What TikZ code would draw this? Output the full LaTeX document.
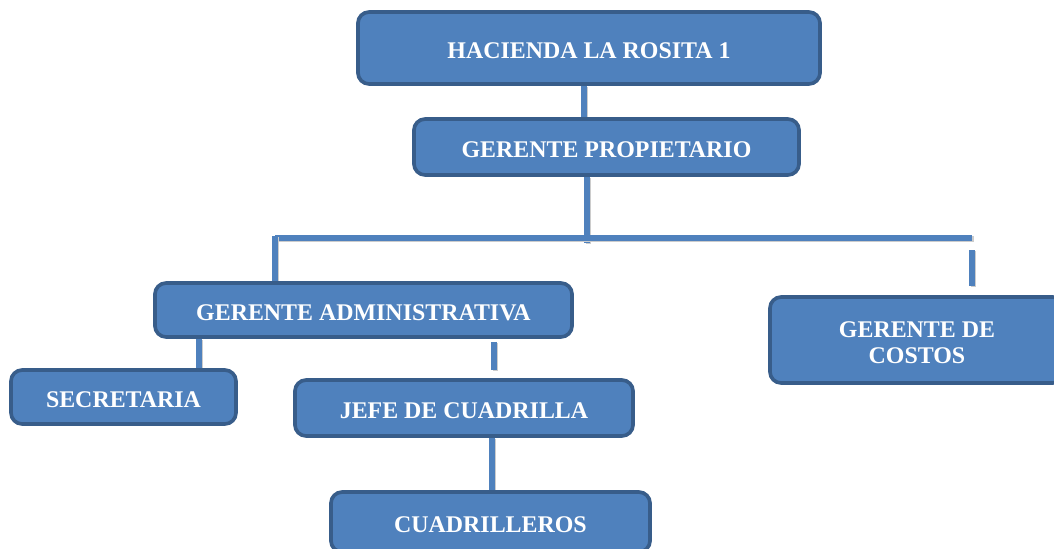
\documentclass[tikz,border=0pt]{standalone}
\usepackage{fontspec}
\setmainfont{Liberation Serif}
\usepackage{tikz}
\usetikzlibrary{calc,backgrounds}
\definecolor{boxblue}{HTML}{4F81BD}
\definecolor{boxedge}{HTML}{385D8A}

\begin{document}
\begin{tikzpicture}[
    x=0.025cm, y=-0.025cm,
    box/.style={draw=boxedge, fill=boxblue, line width=2.6pt,
    rounded corners=8pt, text=white, align=center,
    font=\fontsize{17}{18.5}\selectfont\bfseries, inner sep=0pt},
    oneline/.style={text height=15pt, text depth=0pt},
    link/.style={draw=boxblue, line width=3.8pt,
    preaction={draw=black!20, line width=3.8pt,
    transform canvas={shift={(1.2pt,-0.8pt)}}}},
    every node/.style={color=white}
    ]
    \clip (0,0) rectangle (1054,548);
    \useasboundingbox (0,0) rectangle (1054,548);
    % Boxes
    \node[box, oneline, minimum width=11.55cm, minimum height=1.8cm] (hacienda)
        at (589,48) {HACIENDA LA ROSITA 1};
    \node[box, oneline, minimum width=9.625cm, minimum height=1.4cm] (prop)
        at (606.5,147) {GERENTE PROPIETARIO};
    \node[box, oneline, minimum width=10.425cm, minimum height=1.35cm] (admin)
        at (363.5,310) {GERENTE ADMINISTRATIVA};
    \node[box, minimum width=7.35cm, minimum height=2.15cm] (costos)
        at (917,340) {\rule{0pt}{15pt}GERENTE DE\\COSTOS};
    \node[box, oneline, minimum width=5.625cm, minimum height=1.35cm] (secretaria)
        at (123.5,397) {SECRETARIA};
    \node[box, oneline, minimum width=8.45cm, minimum height=1.4cm] (jefe)
        at (464,408) {JEFE DE CUADRILLA};
    \node[box, oneline, minimum width=7.975cm, minimum height=1.5cm] (cuadrilleros)
        at (490.5,522) {CUADRILLEROS};
    % Lines
    \begin{pgfonlayer}{background}
    \coordinate (top) at (584,0);
    \coordinate (bus) at (587,243);
    \coordinate (bus w) at (275,238);
    \coordinate (bus e) at (972,238);
    \coordinate (sec) at (199,0);
    \coordinate (jl) at (494,0);
    \coordinate (cl) at (492,0);
    \draw[link] (hacienda.south -| top) -- (prop.north -| top);
    \draw[link] (prop.south -| bus) -- (bus);
    \draw[link] (bus w) -- (bus e);
    \draw[link] ($(bus w)+(0,-2)$) -- (admin.north -| bus w);
    \draw[link] ($(bus e)+(0,12)$) -- ($(costos.north -| bus e)+(0,-9)$);
    \draw[link] (admin.south -| sec) -- (secretaria.north -| sec);
    \draw[link] ($(admin.south -| jl)+(0,3)$) -- ($(jefe.north -| jl)+(0,-8)$);
    \draw[link] (jefe.south -| cl) -- (cuadrilleros.north -| cl);
    \end{pgfonlayer}
\end{tikzpicture}
\end{document}
